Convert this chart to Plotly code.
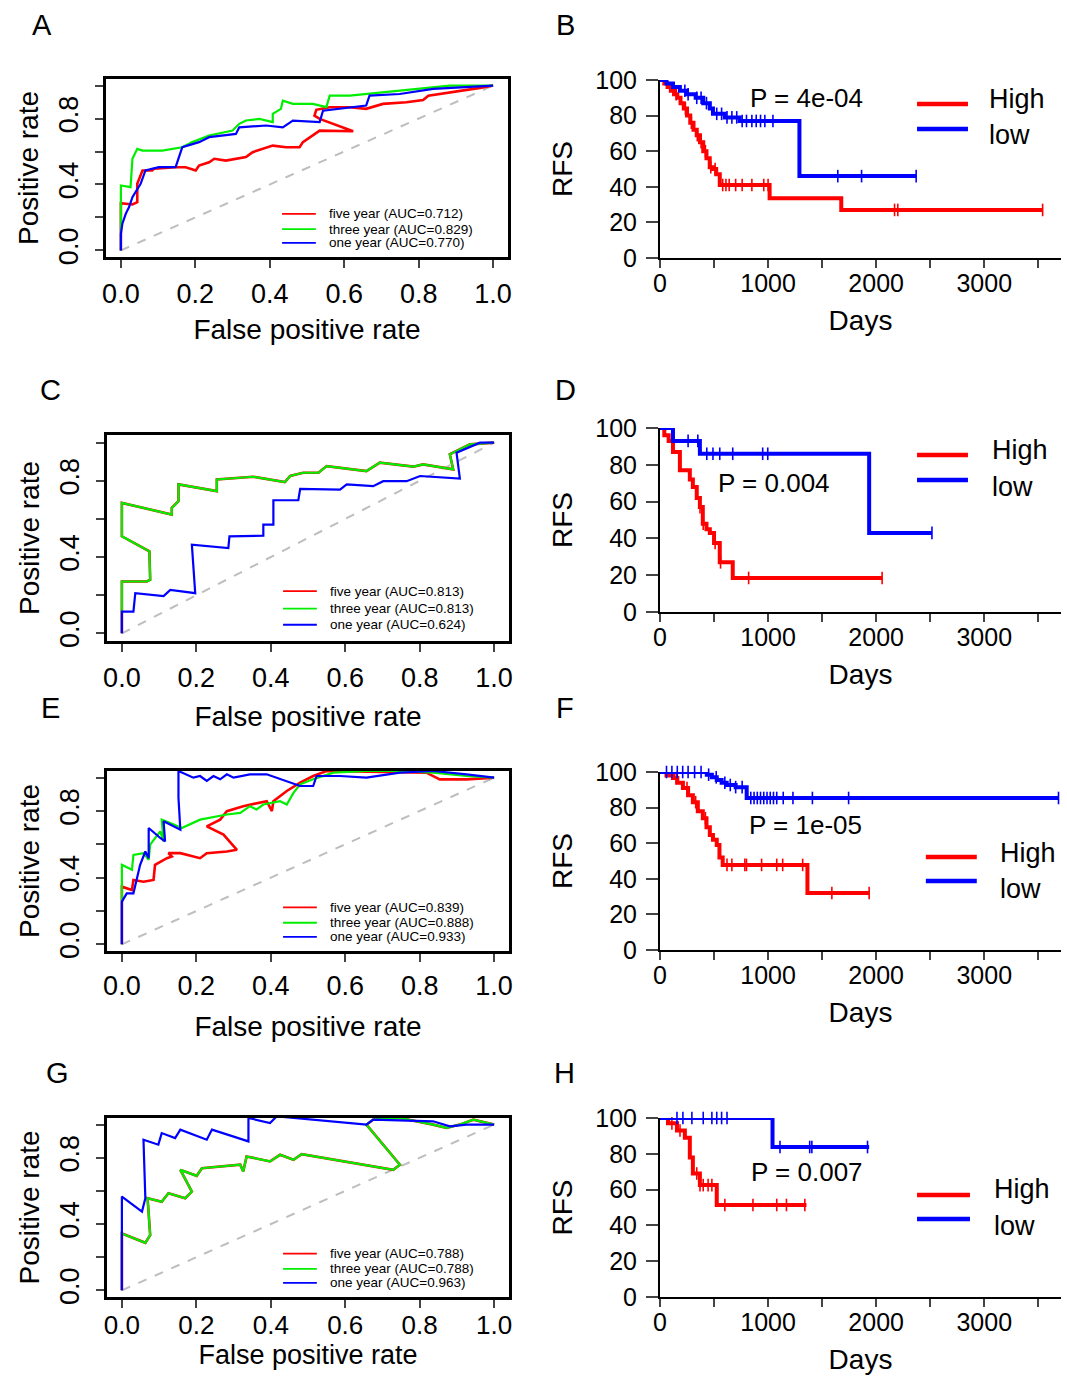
import numpy as np
import plotly.graph_objects as go

W, H = 1067, 1378
FONT = "Liberation Sans, Arial, sans-serif"
RED, GREEN, BLUE = "#FF0000", "#00EE00", "#0000FF"

# ---------------- ROC data (fpr, tpr) ----------------
A_five_fpr = [0, 0, 0.031, 0.044, 0.044, 0.058, 0.084, 0.089, 0.147, 0.174, 0.201, 0.210, 0.237, 0.251, 0.282, 0.318, 0.336, 0.354, 0.381, 0.408, 0.444, 0.480, 0.489, 0.516, 0.534, 0.624, 0.534, 0.520, 0.525, 0.561, 0.615, 0.659, 0.704, 0.767, 0.812, 0.826, 0.857, 0.911, 0.965, 1.0]
A_five_tpr = [0, 0.287, 0.279, 0.293, 0.404, 0.485, 0.485, 0.495, 0.505, 0.505, 0.485, 0.515, 0.535, 0.556, 0.545, 0.556, 0.566, 0.596, 0.616, 0.636, 0.626, 0.626, 0.657, 0.697, 0.727, 0.723, 0.798, 0.818, 0.853, 0.869, 0.869, 0.859, 0.889, 0.899, 0.913, 0.939, 0.949, 0.970, 0.986, 1.0]
A_three_fpr = [0, 0, 0.026, 0.031, 0.044, 0.058, 0.111, 0.138, 0.165, 0.192, 0.237, 0.300, 0.318, 0.336, 0.372, 0.408, 0.408, 0.430, 0.435, 0.462, 0.516, 0.552, 0.561, 0.615, 0.659, 0.749, 0.839, 0.884, 1.0]
A_three_tpr = [0, 0.394, 0.384, 0.556, 0.616, 0.606, 0.606, 0.616, 0.626, 0.657, 0.697, 0.727, 0.768, 0.788, 0.798, 0.778, 0.828, 0.859, 0.909, 0.889, 0.889, 0.869, 0.939, 0.939, 0.949, 0.966, 0.990, 1.0, 1.0]
A_one_fpr = [0, 0, 0.004, 0.013, 0.022, 0.031, 0.053, 0.066, 0.102, 0.147, 0.165, 0.210, 0.237, 0.309, 0.318, 0.390, 0.435, 0.462, 0.534, 0.543, 0.659, 0.668, 0.749, 0.839, 1.0]
A_one_tpr = [0, 0.101, 0.162, 0.222, 0.263, 0.323, 0.404, 0.485, 0.505, 0.505, 0.626, 0.657, 0.687, 0.707, 0.747, 0.758, 0.747, 0.788, 0.778, 0.848, 0.879, 0.939, 0.949, 0.980, 1.0]

C_five_fpr = [0, 0, 0, 0.067, 0.076, 0.074, 0, 0, 0.134, 0.134, 0.152, 0.152, 0.255, 0.255, 0.353, 0.438, 0.452, 0.487, 0.528, 0.550, 0.657, 0.693, 0.783, 0.809, 0.890, 0.881, 0.908, 0.935, 1.0]
C_five_tpr = [0, 0.114, 0.272, 0.272, 0.281, 0.430, 0.509, 0.684, 0.623, 0.658, 0.693, 0.781, 0.746, 0.807, 0.821, 0.793, 0.825, 0.842, 0.842, 0.877, 0.851, 0.895, 0.874, 0.886, 0.860, 0.939, 0.965, 0.991, 1.0]
C_three_fpr = list(C_five_fpr)
C_three_tpr = list(C_five_tpr)
C_one_fpr = [0, 0, 0.031, 0.036, 0.112, 0.130, 0.197, 0.188, 0.286, 0.289, 0.380, 0.380, 0.407, 0.407, 0.474, 0.479, 0.586, 0.604, 0.675, 0.702, 0.765, 0.801, 0.908, 0.899, 0.962, 1.0]
C_one_tpr = [0, 0.114, 0.114, 0.211, 0.196, 0.228, 0.211, 0.465, 0.447, 0.509, 0.512, 0.570, 0.570, 0.698, 0.698, 0.758, 0.754, 0.781, 0.772, 0.798, 0.798, 0.825, 0.811, 0.947, 1.0, 1.0]

E_five_fpr = [0, 0, 0.027, 0.031, 0.058, 0.085, 0.089, 0.121, 0.134, 0.125, 0.157, 0.210, 0.228, 0.282, 0.309, 0.273, 0.228, 0.264, 0.282, 0.326, 0.389, 0.403, 0.407, 0.443, 0.479, 0.514, 0.550, 0.747, 0.818, 0.854, 0.926, 1.0]
E_five_tpr = [0, 0.346, 0.326, 0.386, 0.376, 0.386, 0.477, 0.517, 0.527, 0.547, 0.547, 0.517, 0.547, 0.557, 0.567, 0.658, 0.708, 0.748, 0.799, 0.829, 0.859, 0.799, 0.859, 0.920, 0.970, 1.010, 1.040, 1.030, 1.030, 0.990, 0.990, 1.0]
E_three_fpr = [0, 0, 0.027, 0.031, 0.058, 0.072, 0.076, 0.103, 0.112, 0.107, 0.130, 0.161, 0.210, 0.282, 0.318, 0.344, 0.362, 0.380, 0.425, 0.443, 0.461, 0.479, 0.514, 0.568, 0.657, 0.747, 0.836, 0.926, 1.0]
E_three_tpr = [0, 0.477, 0.447, 0.537, 0.547, 0.507, 0.598, 0.678, 0.618, 0.748, 0.728, 0.698, 0.748, 0.779, 0.789, 0.829, 0.809, 0.839, 0.859, 0.839, 0.909, 0.960, 0.990, 1.030, 1.040, 1.040, 1.030, 1.010, 1.0]
E_one_fpr = [0, 0, 0.013, 0.031, 0.049, 0.063, 0.072, 0.072, 0.103, 0.116, 0.112, 0.157, 0.152, 0.152, 0.192, 0.210, 0.228, 0.246, 0.264, 0.282, 0.300, 0.344, 0.389, 0.479, 0.514, 0.523, 0.586, 0.657, 0.747, 0.836, 0.926, 1.0]
E_one_tpr = [0, 0.256, 0.306, 0.306, 0.477, 0.557, 0.517, 0.698, 0.638, 0.618, 0.738, 0.688, 0.879, 1.040, 1.0, 1.010, 0.980, 1.010, 0.990, 1.020, 1.0, 1.020, 1.020, 0.950, 0.950, 1.010, 1.010, 1.0, 1.030, 1.040, 1.020, 1.0]

G_five_fpr = [0, 0, 0.063, 0.076, 0.069, 0.107, 0.125, 0.170, 0.188, 0.157, 0.201, 0.215, 0.318, 0.326, 0.335, 0.398, 0.425, 0.461, 0.483, 0.729, 0.747, 0.657, 0.675, 0.747, 0.836, 0.872, 0.908, 0.944, 1.0]
G_five_tpr = [0, 0.343, 0.287, 0.333, 0.556, 0.535, 0.586, 0.556, 0.596, 0.727, 0.691, 0.737, 0.758, 0.717, 0.808, 0.778, 0.818, 0.788, 0.822, 0.727, 0.758, 1.0, 1.030, 1.040, 1.0, 0.980, 1.0, 1.030, 1.0]
G_three_fpr = list(G_five_fpr)
G_three_tpr = list(G_five_tpr)
G_one_fpr = [0, 0, 0.054, 0.063, 0.058, 0.098, 0.107, 0.143, 0.157, 0.228, 0.242, 0.340, 0.340, 0.398, 0.416, 0.657, 0.675, 0.836, 0.881, 0.926, 1.0]
G_one_tpr = [0, 0.566, 0.475, 0.556, 0.909, 0.879, 0.949, 0.919, 0.970, 0.909, 0.970, 0.899, 1.040, 1.010, 1.050, 1.0, 1.030, 1.020, 0.990, 1.0, 1.0]

A_labels = ["five year (AUC=0.712)", "three year (AUC=0.829)", "one year (AUC=0.770)"]
C_labels = ["five year (AUC=0.813)", "three year (AUC=0.813)", "one year (AUC=0.624)"]
E_labels = ["five year (AUC=0.839)", "three year (AUC=0.888)", "one year (AUC=0.933)"]
G_labels = ["five year (AUC=0.788)", "three year (AUC=0.788)", "one year (AUC=0.963)"]

ROC_ticks = [0, 0.2, 0.4, 0.6, 0.8, 1.0]
ROC_xtext = ["0.0", "0.2", "0.4", "0.6", "0.8", "1.0"]
ROC_ytext = ["0.0", "", "0.4", "", "0.8", ""]

# ---------------- Kaplan-Meier data (days, RFS %) ----------------
B_high_t = [0, 40, 70, 100, 130, 160, 190, 220, 250, 280, 310, 340, 370, 400, 430, 460, 490, 520, 553, 1014, 1677]
B_high_s = [100, 98, 96, 94, 92, 90, 87, 84, 80, 76, 72, 69, 65, 60, 56, 51, 50, 47, 41, 33.5, 27]
B_high_end = 3540
B_high_cens = [150, 235, 290, 345, 380, 420, 470, 510, 580, 610, 640, 700, 760, 850, 960, 1000, 2170, 2200, 3540]
B_low_t = [0, 60, 120, 184, 250, 330, 400, 461, 490, 600, 737, 1290]
B_low_s = [100, 98, 96, 94, 92, 90, 87, 84, 81, 79, 77, 46]
B_low_end = 2370
B_low_cens = [230, 260, 340, 380, 430, 525, 570, 620, 665, 710, 760, 800, 850, 890, 930, 970, 1045, 1645, 1865, 2370]

D_high_t = [0, 40, 80, 120, 184, 276, 304, 340, 369, 396, 430, 461, 500, 553, 673]
D_high_s = [100, 96, 93, 87, 77, 72, 68, 62, 57, 48, 45, 43, 37.5, 27, 18.5]
D_high_end = 2055
D_high_cens = [370, 400, 510, 560, 820, 2055]
D_low_t = [0, 120, 369, 1935]
D_low_s = [100, 93, 86, 43]
D_low_end = 2516
D_low_cens = [260, 350, 433, 490, 553, 673, 950, 997, 2516]

F_high_t = [0, 60, 120, 160, 212, 260, 304, 350, 396, 430, 461, 490, 525, 550, 580, 1364]
F_high_s = [100, 98, 96.6, 94, 91, 87, 83, 78, 74, 69, 64.6, 62, 59, 52, 47.8, 32]
F_high_end = 1935
F_high_cens = [150, 250, 330, 420, 620, 665, 785, 800, 940, 1080, 1135, 1320, 1590, 1935]
F_low_t = [0, 433, 480, 525, 570, 617, 700, 802]
F_low_s = [100, 98.5, 97, 95.5, 94, 92.7, 91.5, 85.4]
F_low_end = 3687
F_low_cens = [60, 110, 160, 210, 260, 320, 380, 450, 520, 600, 650, 700, 760, 840, 870, 900, 930, 960, 990, 1020, 1050, 1080, 1140, 1230, 1410, 1745, 3687]

H_high_t = [0, 74, 157, 230, 276, 304, 369, 525]
H_high_s = [100, 97, 93, 89, 78, 69, 62.5, 51.4]
H_high_end = 1355
H_high_cens = [110, 185, 340, 370, 400, 445, 480, 600, 860, 1080, 1170, 1340]
H_low_t = [0, 1041]
H_low_s = [100, 83.8]
H_low_end = 1935
H_low_cens = [157, 212, 295, 400, 480, 525, 570, 620, 1110, 1385, 1405, 1920]

P_values = {"B": "P = 4e-04", "D": "P = 0.004", "F": "P = 1e-05", "H": "P = 0.007"}
P_pos = {"B": (815, 90), "D": (517, 70), "F": (803, 70), "H": (822, 70)}
KM_xticks = [0, 500, 1000, 1500, 2000, 2500, 3000, 3500]
KM_xtext = ["0", "", "1000", "", "2000", "", "3000", ""]
KM_yticks = [0, 20, 40, 60, 80, 100]
KM_groups = ["High", "low"]

# ---------------- layout helpers ----------------
def dx(a, b):
    return [a / W, b / W]

def dy(top, bottom):
    return [1 - bottom / H, 1 - top / H]

def ids(n):
    s = "" if n == 1 else str(n)
    return "x" + s, "y" + s, "xaxis" + s, "yaxis" + s

fig = go.Figure()
shapes, annots = [], []
layout = {}

# (n, x px, y px, curves, labels, x tick-label standoff, x title standoff, x tick font, x title font)
roc_panels = [
    (1, (106, 508), (79, 257), [(A_five_fpr, A_five_tpr), (A_three_fpr, A_three_tpr), (A_one_fpr, A_one_tpr)], A_labels, 3, 12, 27, 28),
    (3, (107, 509), (435, 641), [(C_five_fpr, C_five_tpr), (C_three_fpr, C_three_tpr), (C_one_fpr, C_one_tpr)], C_labels, 3, 15, 27, 28),
    (5, (107, 509), (771, 951), [(E_five_fpr, E_five_tpr), (E_three_fpr, E_three_tpr), (E_one_fpr, E_one_tpr)], E_labels, 1, 17, 27, 28),
    (7, (107, 509), (1118, 1297), [(G_five_fpr, G_five_tpr), (G_three_fpr, G_three_tpr), (G_one_fpr, G_one_tpr)], G_labels, -5, 4, 26, 27),
]
roc_colors = [RED, GREEN, BLUE]
roc_widths = [2.6, 2.2, 2.2]
leg_y = [0.242, 0.157, 0.079]

for n, xs, ys, curves, labels, tls, tts, tfs, ttf in roc_panels:
    xa, ya, xk, yk = ids(n)
    fig.add_trace(go.Scatter(x=[0, 1], y=[0, 1], mode="lines", xaxis=xa, yaxis=ya,
                             line=dict(color="#BEBEBE", width=2, dash="dash"), showlegend=False))
    for (fx, fy), col, lw in zip(curves, roc_colors, roc_widths):
        fig.add_trace(go.Scatter(x=fx, y=fy, mode="lines", xaxis=xa, yaxis=ya,
                                 line=dict(color=col, width=lw), showlegend=False))
    layout[xk] = dict(domain=dx(*xs), anchor=ya, range=[-0.04, 1.04], automargin=False,
                      tickvals=ROC_ticks, ticktext=ROC_xtext, ticks="outside", ticklen=8,
                      tickwidth=1.5, showline=True, linewidth=2.5, linecolor="black", mirror=True,
                      showgrid=False, zeroline=False, ticklabelstandoff=tls,
                      tickfont=dict(size=tfs), title=dict(text="False positive rate", standoff=tts, font=dict(size=ttf)))
    layout[yk] = dict(domain=dy(*ys), anchor=xa, range=[-0.04, 1.04], automargin=False,
                      tickvals=ROC_ticks, ticktext=ROC_ytext, ticks="outside", ticklen=8,
                      tickwidth=1.5, showline=True, linewidth=2.5, linecolor="black", mirror=True,
                      showgrid=False, zeroline=False, tickangle=-90, ticklabelstandoff=6,
                      tickfont=dict(size=27), title=dict(text="Positive rate", standoff=8, font=dict(size=28)))
    for lab, col, yy in zip(labels, roc_colors, leg_y):
        shapes.append(dict(type="line", xref=f"{xa} domain", yref=f"{ya} domain",
                           x0=0.438, x1=0.522, y0=yy, y1=yy, line=dict(color=col, width=1.8)))
        annots.append(dict(text=lab, xref=f"{xa} domain", yref=f"{ya} domain", x=0.55, y=yy,
                           xanchor="left", yanchor="middle", showarrow=False, font=dict(size=13.5)))

def step_eval(t, s, q):
    idx = np.searchsorted(np.array(t), np.array(q), side="right") - 1
    return [float(v) for v in np.array(s)[idx]]

# (panel n, key, y pixel box, groups, legend line x0/x1/text x, legend line ys, legend text ys)
km_panels = [
    (2, "B", (80, 258), [(B_high_t, B_high_s, B_high_end, B_high_cens), (B_low_t, B_low_s, B_low_end, B_low_cens)],
     (0.641, 0.768, 0.815), (0.865, 0.725), (0.893, 0.691)),
    (4, "D", (428, 612), [(D_high_t, D_high_s, D_high_end, D_high_cens), (D_low_t, D_low_s, D_low_end, D_low_cens)],
     (0.641, 0.768, 0.822), (0.853, 0.717), (0.880, 0.679)),
    (6, "F", (772, 950), [(F_high_t, F_high_s, F_high_end, F_high_cens), (F_low_t, F_low_s, F_low_end, F_low_cens)],
     (0.663, 0.790, 0.843), (0.522, 0.388), (0.545, 0.343)),
    (8, "H", (1118, 1297), [(H_high_t, H_high_s, H_high_end, H_high_cens), (H_low_t, H_low_s, H_low_end, H_low_cens)],
     (0.641, 0.773, 0.828), (0.570, 0.436), (0.603, 0.397)),
]
km_colors = [RED, BLUE]

for n, key, ys, groups, lx, lys, tys in km_panels:
    xa, ya, xk, yk = ids(n)
    for (t, s, end, cens), col in zip(groups, km_colors):
        fig.add_trace(go.Scatter(x=t + [end], y=s + [s[-1]], mode="lines", line_shape="hv",
                                 xaxis=xa, yaxis=ya, cliponaxis=False,
                                 line=dict(color=col, width=4), showlegend=False))
        fig.add_trace(go.Scatter(x=cens, y=step_eval(t, s, cens), mode="markers", xaxis=xa, yaxis=ya,
                                 cliponaxis=False,
                                 marker=dict(symbol="line-ns", size=9, line=dict(color=col, width=1.6)),
                                 showlegend=False))
    layout[xk] = dict(domain=dx(660, 1061), anchor=ya, range=[0, 3710], automargin=False,
                      tickvals=KM_xticks, ticktext=KM_xtext, ticks="outside", ticklen=8,
                      tickwidth=2, showline=True, linewidth=2, linecolor="black",
                      showgrid=False, zeroline=False, ticklabelstandoff=-6,
                      tickfont=dict(size=25), title=dict(text="Days", standoff=14, font=dict(size=28)))
    layout[yk] = dict(domain=dy(*ys), anchor=xa, range=[0, 100], automargin=False,
                      tickvals=KM_yticks, ticks="outside", ticklen=12, tickwidth=2,
                      showline=True, linewidth=2, linecolor="black",
                      showgrid=False, zeroline=False, ticklabelstandoff=4,
                      tickfont=dict(size=25), title=dict(text="RFS", standoff=14, font=dict(size=28)))
    px_, py_ = P_pos[key]
    annots.append(dict(text=P_values[key], xref=xa, yref=ya, x=px_, y=py_, xanchor="left",
                       yanchor="middle", showarrow=False, font=dict(size=26)))
    for grp, col, yy, ty in zip(KM_groups, km_colors, lys, tys):
        shapes.append(dict(type="line", xref=f"{xa} domain", yref=f"{ya} domain",
                           x0=lx[0], x1=lx[1], y0=yy, y1=yy, line=dict(color=col, width=4.5)))
        annots.append(dict(text=grp, xref=f"{xa} domain", yref=f"{ya} domain", x=lx[2], y=ty,
                           xanchor="left", yanchor="middle", showarrow=False, font=dict(size=27)))

panel_letters = ["A", "B", "C", "D", "E", "F", "G", "H"]
letter_pos = [(42, 25), (565, 25), (50, 390), (565, 390), (50, 708), (565, 708), (57, 1073), (564, 1073)]
for lt, (lx_, ly_) in zip(panel_letters, letter_pos):
    annots.append(dict(text=lt, xref="paper", yref="paper", x=lx_ / W, y=1 - ly_ / H,
                       xanchor="center", yanchor="middle", showarrow=False, font=dict(size=29)))

fig.update_layout(**layout)
fig.update_layout(width=W, height=H, margin=dict(l=0, r=0, t=0, b=0, pad=0, autoexpand=False),
                  paper_bgcolor="white", plot_bgcolor="white", showlegend=False,
                  font=dict(family=FONT, color="black"), shapes=shapes, annotations=annots)
fig.write_html("out.html", config={"displayModeBar": False},
               post_script="document.body.style.margin='0px';document.body.style.overflow='hidden';")
